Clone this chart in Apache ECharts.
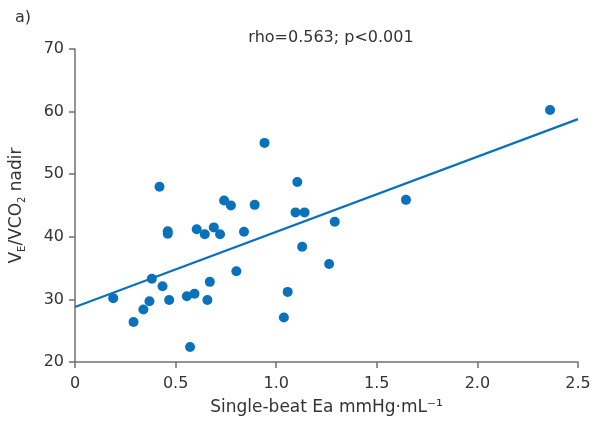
<!DOCTYPE html>
<html><head><meta charset="utf-8">
<script src="https://cdn.jsdelivr.net/npm/echarts@6/dist/echarts.min.js"></script>
<style>html,body{margin:0;padding:0;background:#fff}#c{width:596px;height:425px}</style>
</head><body><div id="c"></div>
<script>
const eaValues = [0.19,0.291,0.34,0.37,0.382,0.42,0.435,0.461,0.461,0.468,0.556,0.572,0.594,0.605,0.645,0.658,0.67,0.69,0.721,0.741,0.775,0.802,0.84,0.893,0.942,1.038,1.057,1.096,1.105,1.129,1.141,1.263,1.291,1.645,2.361];
const veVco2Values = [30.2,26.4,28.4,29.7,33.3,48.0,32.1,40.9,40.5,29.9,30.5,22.4,30.9,41.2,40.4,29.9,32.8,41.5,40.4,45.8,45.0,34.5,40.8,45.1,55.0,27.1,31.2,43.9,48.75,38.4,43.9,35.65,42.4,45.9,60.25];
const fitX = [0, 2.5];
const fitY = [28.8, 58.8];
const xTicks = ['0','0.5','1.0','1.5','2.0','2.5'];
const titleText = 'rho=0.563; p<0.001';
const panelLabel = 'a)';

const blue = '#0a72ba';
const axisGrey = '#707070';
const txt = '#333';
const font = 'DejaVu Sans, sans-serif';
const fs = 16;
const fsName = 17;

const chart = echarts.init(document.getElementById('c'));
chart.setOption({
  animation: false,
  textStyle: {fontFamily: font},
  title: [
    {text: panelLabel, left: 10, top: 5, textStyle: {fontSize: fs, fontWeight: 'normal', color: txt, fontFamily: font}},
    {text: titleText, left: 326, top: 25, textAlign: 'center', textStyle: {fontSize: fs, fontWeight: 'normal', color: txt, fontFamily: font}}
  ],
  grid: {left: 74, right: 18, top: 49, bottom: 63},
  xAxis: {
    type: 'value', min: 0, max: 2.5, interval: 0.5,
    name: 'Single-beat Ea mmHg·mL⁻¹', nameLocation: 'middle', nameGap: 37,
    nameTextStyle: {fontSize: fsName, color: txt, fontFamily: font},
    axisLine: {show: true, lineStyle: {color: axisGrey, width: 1.5}},
    axisTick: {show: true, length: 6, lineStyle: {color: axisGrey, width: 1.5}},
    axisLabel: {fontSize: fs, color: txt, margin: 14, fontFamily: font,
      formatter: (v) => xTicks[Math.round(v / 0.5)]},
    splitLine: {show: false}
  },
  yAxis: {
    type: 'value', min: 20, max: 70, interval: 10,
    name: '{a|V}{s|E}{a|/VCO}{s|2}{a| nadir}', nameLocation: 'middle', nameGap: 48, nameRotate: 90,
    nameTextStyle: {color: txt, fontFamily: font,
      rich: {
        a: {fontSize: fsName, color: txt, fontFamily: font, lineHeight: 20, verticalAlign: 'middle'},
        s: {fontSize: 10, color: txt, fontFamily: font, lineHeight: 20, verticalAlign: 'bottom', padding: [9, 0, 0, 0]}
      }},
    axisLine: {show: true, lineStyle: {color: axisGrey, width: 1.5}},
    axisTick: {show: true, length: 6, lineStyle: {color: axisGrey, width: 1.5}},
    axisLabel: {fontSize: fs, color: txt, margin: 11, fontFamily: font},
    splitLine: {show: false}
  },
  series: [
    {
      type: 'line', data: fitX.map((x, i) => [x, fitY[i]]),
      symbol: 'none', lineStyle: {color: blue, width: 2.2}, z: 2
    },
    {
      type: 'scatter', data: eaValues.map((x, i) => [x, veVco2Values[i]]),
      symbolSize: 10, itemStyle: {color: blue, opacity: 1}, z: 3
    }
  ]
});
</script></body></html>
